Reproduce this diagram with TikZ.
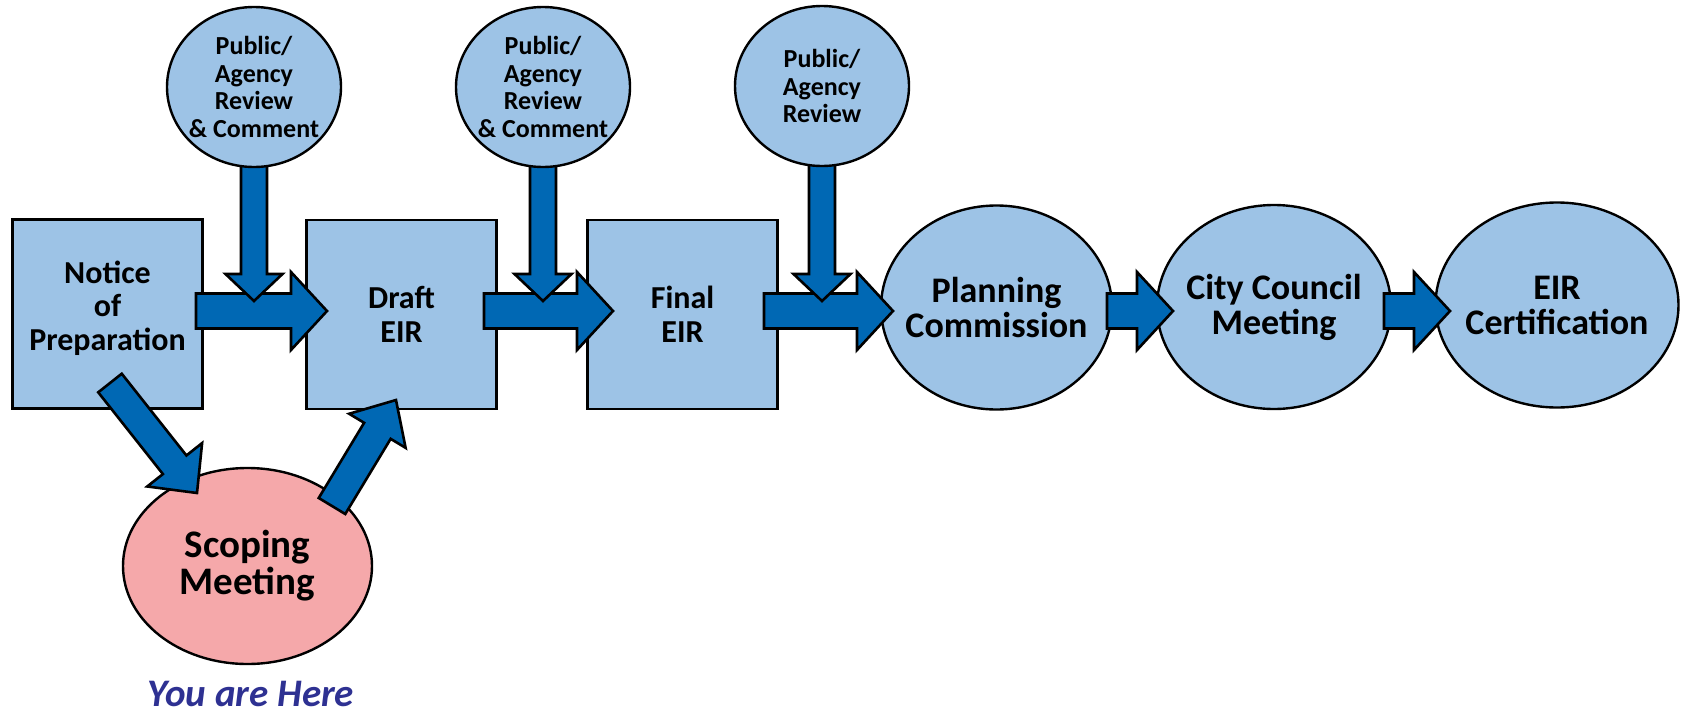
\documentclass[tikz,border=0pt]{standalone}
\usepackage{fontspec}
\setmainfont{Carlito}
\usetikzlibrary{shapes.geometric,calc}
\definecolor{boxblue}{RGB}{157,195,230}
\definecolor{arrblue}{RGB}{0,104,180}
\definecolor{pinkfill}{RGB}{245,168,170}
\definecolor{navy}{RGB}{46,49,146}
\newcommand{\blockarrow}[5]{%
  \coordinate (hbtmp) at ($(#2)!#5!(#1)$);
  \draw[blockarr] ($(#1)!#3!90:(#2)$) -- ($(hbtmp)!#3!90:(#2)$) -- ($(hbtmp)!#4!90:(#2)$) -- (#2) -- ($(hbtmp)!#4!-90:(#2)$) -- ($(hbtmp)!#3!-90:(#2)$) -- ($(#1)!#3!-90:(#2)$) -- cycle;
}
\tikzset{
  boxtxt/.style={font=\bfseries\fontsize{32}{33.5}\selectfont},
  ovaltxt/.style={font=\bfseries\fontsize{36}{35}\selectfont},
  stepbox/.style={draw=black, line width=2.6pt, fill=boxblue, minimum width=190pt, minimum height=189pt, inner sep=0pt, align=center, boxtxt},
  bigoval/.style={ellipse, draw=black, line width=2.4pt, fill=boxblue, inner sep=0pt, inner xsep=-30pt, align=center, ovaltxt},
  smalloval/.style={ellipse, draw=black, line width=2.4pt, fill=boxblue, inner sep=0pt, inner xsep=-24pt, inner ysep=-4pt, minimum width=174pt, minimum height=160pt, align=center, font=\bfseries\fontsize{26}{27.5}\selectfont},
  blockarr/.style={draw=black, line width=2.6pt, fill=arrblue, line join=miter},
  heretxt/.style={font=\bfseries\itshape\fontsize{39}{42}\selectfont, text=navy, inner sep=0pt}
}
\begin{document}
\begin{tikzpicture}[x=1pt,y=-1pt]
\useasboundingbox (0,0) rectangle (1681,715);
\fill[white] (0,0) rectangle (1681,715);
% main boxes and ovals
\node[stepbox, label={[name=noticetxt, boxtxt, align=center, inner sep=0pt, yshift=6pt]center:{Notice\\of\\Preparation}}] (notice) at (107.5,314) {};
\node[stepbox] (draft) at (401.5,314.5) {Draft\\EIR};
\node[stepbox] (final) at (682.5,314.5) {Final\\EIR};
\node[bigoval, minimum width=231pt, minimum height=204pt] (plan) at (996.5,307.5) {Planning\\Commission};
\node[bigoval, minimum width=234pt, minimum height=204pt] (city) at (1274,307) {City Council\\Meeting};
\node[bigoval, minimum width=243pt, minimum height=205pt] (cert) at (1557,305) {EIR\\Certification};
\node[bigoval, fill=pinkfill, minimum width=249pt, minimum height=196pt, font=\bfseries\fontsize{39}{37}\selectfont] (scope) at (247.5,566) {Scoping\\Meeting};
\node[heretxt] (here) at (251,694) {You are Here};
% horizontal arrows
\coordinate (h1s) at (196,311); \coordinate (h1e) at (327,311);
\coordinate (h2s) at (484,311); \coordinate (h2e) at (613,311);
\coordinate (h3s) at (764,311); \coordinate (h3e) at (893,311);
\coordinate (h4s) at (1107,311); \coordinate (h4e) at (1173,311);
\coordinate (h5s) at (1384,311); \coordinate (h5e) at (1450,311);
\blockarrow{h1s}{h1e}{17.5pt}{39pt}{36pt}
\blockarrow{h2s}{h2e}{17.5pt}{39pt}{36pt}
\blockarrow{h3s}{h3e}{17.5pt}{39pt}{36pt}
\blockarrow{h4s}{h4e}{17.5pt}{39pt}{36pt}
\blockarrow{h5s}{h5e}{17.5pt}{39pt}{36pt}
% vertical arrows
\coordinate (v1s) at (254,140); \coordinate (v1e) at (254,301);
\coordinate (v2s) at (543,140); \coordinate (v2e) at (543,301);
\coordinate (v3s) at (822,140); \coordinate (v3e) at (822,301);
\blockarrow{v1s}{v1e}{13pt}{28.5pt}{27pt}
\blockarrow{v2s}{v2e}{13pt}{28.5pt}{27pt}
\blockarrow{v3s}{v3e}{13pt}{28.5pt}{27pt}
% review ovals
\node[smalloval] (rev1) at (254,87) {Public/\\Agency\\Review\\\&{} Comment};
\node[smalloval] (rev2) at (543,87) {Public/\\Agency\\Review\\\&{} Comment};
\node[smalloval] (rev3) at (822,86) {Public/\\Agency\\Review};
% diagonal arrows
\coordinate (d1s) at (110,383); \coordinate (d1e) at (197,493);
\coordinate (d2s) at (332,506); \coordinate (d2e) at (396,400);
\blockarrow{d1s}{d1e}{15pt}{35pt}{36pt}
\blockarrow{d2s}{d2e}{15.5pt}{33pt}{36pt}
\end{tikzpicture}
\end{document}
